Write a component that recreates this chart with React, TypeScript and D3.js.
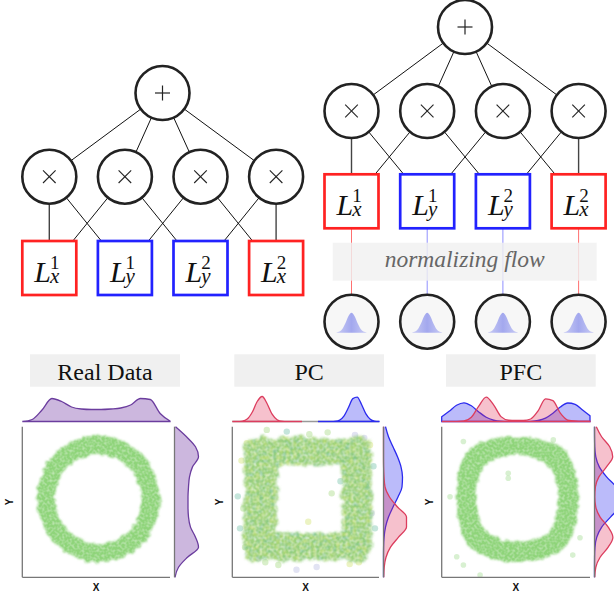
import React from "react";
import * as d3 from "d3";

const W = 614;
const H = 599;

// ---------------- circuit data ----------------
const leafVars = ["x", "y", "y", "x"];
const leafSups = ["1", "1", "2", "2"];
const productChildren: number[][] = [[0, 1], [0, 2], [1, 3], [2, 3]];
const bellSamples = [0.2, 1.1, 4, 9.7, 16.7, 20, 16.7, 9.7, 4, 1.1, 0.2];
const flowLabel = "normalizing flow";

// ---------------- panel data ----------------
const panelTitles = ["Real Data", "PC", "PFC"];
const axisLabels = ["X", "Y"];

const realTop = [0, 2, 11.5, 23, 20, 14.5, 12.5, 12, 12, 12.5, 13.5, 16.5, 23, 22, 8, 0.5];
const realRight = [1, 12, 21, 24, 18, 15, 14, 13.5, 13.5, 14, 16, 21, 24, 13, 4, 0.5];

const pcTopRed = [0, 0.03, 0.4, 2.4, 9.2, 20, 25, 17.8, 7.3, 1.8, 0.24, 0.02, 0, 0, 0];
const pcTopRedSpan = [-4, -0.2];
const pcTopBlue = [0, 0, 0, 0.03, 0.25, 1.5, 5.7, 14, 22.9, 24.4, 17, 7.7, 2.3, 0.45, 0.06];
const pcTopBlueSpan = [0.67, 4];
const pcRightBlue = [2, 5, 9.5, 14, 17.5, 19, 18.5, 14.5, 9.5, 5, 2, 0.6, 0.1, 0, 0, 0];
const pcRightRed = [0, 0, 0, 0, 0.1, 0.5, 1.5, 6, 14, 23, 23, 15, 7, 2.5, 0.7, 0.2];

const pfcTopBlue = [4.7, 10.2, 16.2, 18.7, 15.7, 9.6, 4.2, 1.4, 0.3, 0.05, 0, 0, 0.2, 1.0, 3.4, 8.3, 14.5, 18.5, 17.2, 11.6, 5.7];
const pfcTopRed = [0, 0, 0.03, 0.5, 4.2, 15.4, 24.3, 16.6, 4.9, 1.4, 1, 1.1, 2.5, 10.6, 22.7, 20.9, 8.3, 1.4, 0.5, 0.3, 0.3];
const pfcRightRed = [1.8, 7.1, 15.2, 18.2, 12.0, 4.4, 0.9, 0.3, 1.3, 5.6, 13.7, 18.4, 13.7, 5.6, 1.3, 0.2];
const pfcRightBlue = [0, 0.04, 0.26, 1.3, 4.8, 12.1, 21.8, 27.8, 25.1, 16, 7.2, 2.3, 0.5, 0.08, 0.01, 0];

// point clouds (data units, domain [-4, 4])
const realRingCenter = [0.12, 0.16];
const realRingOuter = [3.34, 3.34, 3.37, 3.37, 3.34, 3.34, 3.37, 3.37];
const realRingInner = [2.35, 2.35, 2.39, 2.39, 2.35, 2.35, 2.39, 2.39];

const pcFrameOuter = [-3.36, 3.56, -3.09, 3.4];
const pcFrameInner = [-1.56, 1.98, -1.65, 1.97];
const pcOutX = [-2.12, -3.21, -3.58, -2.58, -1.49, 3.51, 3.78, 3.06, 1.42, 0.14, -1.03, 2.69, -3.4, -3.0, 3.3, -0.5, 1.2, -3.5, 3.7, 0.6, -2.2, 2.4, -3.7, 3.6, 0.2, -1.8, 1.9, 3.2, -3.3, 2.9];
const pcOutY = [3.83, 3.12, -1.4, -2.99, -3.35, 3.03, -1.4, -2.29, 0.46, -1.05, 3.74, 3.56, -0.34, 1.2, 0.8, -3.6, 3.7, 2.2, 1.9, -3.45, -3.2, -3.3, 0.3, -0.6, 3.6, -1.9, 1.1, 3.4, -2.4, -3.2];

const pfcRingCenter = [0.09, 0.16];
const pfcRingOuter = [3.29, 3.62, 3.3, 3.7, 3.29, 3.6, 3.35, 3.6];
const pfcRingInner = [2.2, 2.42, 2.34, 2.5, 2.2, 2.42, 2.27, 2.42];
const pfcOutX = [-2.83, -3.19, -2.83, -1.93, -3.55, -0.41, -0.41, 3.07, 3.46, 2.02];
const pfcOutY = [3.21, -2.91, -3.35, -3.88, 0.28, 1.53, 1.26, -2.82, -1.9, 3.3];

// ---------------- styles ----------------
const RED = "#ff2222";
const BLUE = "#2222ff";
const NODE = "#222";
const PURPLE_FILL = "rgba(110,50,160,0.35)";
const PURPLE = "#6b3d9e";
const RED_FILL = "rgba(225,50,90,0.3)";
const RED_LINE = "#dc3d5e";
const BLUE_FILL = "rgba(60,60,240,0.35)";
const BLUE_LINE = "#2b2bef";
const GREEN = "#8fd47a";

const serif = "'Liberation Serif', 'Times New Roman', serif";

function Leaf({ cx, top, v, s }: { cx: number; top: number; v: string; s: string }) {
  const color = v === "x" ? RED : BLUE;
  const cy = top + 27;
  return (
    <g>
      <rect x={cx - 27} y={top} width={54} height={54} fill="#fff" stroke={color} strokeWidth={2.7} />
      <text x={cx - 15} y={cy + 13.5} fontFamily={serif} fontStyle="italic" fontSize={30} fill="#111">
        L
        <tspan dx={-1} dy={-13} fontSize={19} fontStyle="normal">{s}</tspan>
        <tspan dx={-9.5} dy={14.5} fontSize={21}>{v}</tspan>
      </text>
    </g>
  );
}

function Tree({ plusX, plusY, x0, step, prodY, boxTop, flow }: any) {
  const r = 27;
  const xs = d3.scalePoint<number>().domain(d3.range(4)).range([x0, x0 + 3 * step]);
  const els: any[] = [];
  d3.range(4).forEach((i) => {
    const px = xs(i)!;
    const dx = px - plusX, dy = prodY - plusY;
    const L = Math.hypot(dx, dy);
    els.push(<line key={"pe" + i} x1={plusX + (dx / L) * r} y1={plusY + (dy / L) * r} x2={px - (dx / L) * r} y2={prodY - (dy / L) * r} stroke="#111" strokeWidth={1} />);
  });
  productChildren.forEach((ch, i) => {
    const px = xs(i)!;
    ch.forEach((j) => {
      const lx = xs(j)!;
      if (j === i) {
        els.push(<line key={`le${i}${j}`} x1={px} y1={prodY + r} x2={px} y2={boxTop} stroke="#444" strokeWidth={1.4} />);
      } else {
        const tx = lx + (lx > px ? -23.5 : 23.5);
        const dx = tx - px, dy = boxTop - prodY;
        const L = Math.hypot(dx, dy);
        els.push(<line key={`le${i}${j}`} x1={px + (dx / L) * r} y1={prodY + (dy / L) * r} x2={tx} y2={boxTop} stroke="#111" strokeWidth={1} />);
      }
    });
  });
  const bottomY = 321.7;
  const bellX = d3.scaleLinear().domain([0, bellSamples.length - 1]).range([-15, 15]);
  const bellH = d3.scaleLinear().domain([0, 20]).range([0, 20]);
  return (
    <g>
      {flow &&
        d3.range(4).map((i) => (
          <line key={"fl" + i} x1={xs(i)} y1={boxTop + 54} x2={xs(i)} y2={bottomY - r} stroke={leafVars[i] === "x" ? "#ff7070" : "#9090ff"} strokeWidth={1} />
        ))}
      {flow && <rect x={332.7} y={242.7} width={264} height={38} fill="#f0f0f0" opacity={0.82} />}
      {flow && (
        <text x={464.7} y={267} textAnchor="middle" fontFamily={serif} fontStyle="italic" fontSize={23.5} fill="#666">{flowLabel}</text>
      )}
      {flow &&
        d3.range(4).map((i) => {
          const cx = xs(i)!;
          const area = d3
            .area<number>()
            .x((_, k) => cx + bellX(k))
            .y0(bottomY + 11)
            .y1((d) => bottomY + 11 - bellH(d))
            .curve(d3.curveMonotoneX);
          return (
            <g key={"bc" + i}>
              <circle cx={cx} cy={bottomY} r={r} fill="#f7f7f7" stroke={NODE} strokeWidth={2.6} />
              <path d={area(bellSamples) || ""} fill="url(#bellGrad)" />
            </g>
          );
        })}
      {els}
      <circle cx={plusX} cy={plusY} r={r} fill="#fff" stroke={NODE} strokeWidth={2.6} />
      <line x1={plusX - 7.5} x2={plusX + 7.5} y1={plusY} y2={plusY} stroke="#222" strokeWidth={1.2} />
      <line x1={plusX} x2={plusX} y1={plusY - 7.5} y2={plusY + 7.5} stroke="#222" strokeWidth={1.2} />
      {d3.range(4).map((i) => {
        const cx = xs(i)!;
        return (
          <g key={"pn" + i}>
            <circle cx={cx} cy={prodY} r={r} fill="#fff" stroke={NODE} strokeWidth={2.6} />
            <line x1={cx - 6.3} y1={prodY - 6.3} x2={cx + 6.3} y2={prodY + 6.3} stroke="#222" strokeWidth={1.1} />
            <line x1={cx - 6.3} y1={prodY + 6.3} x2={cx + 6.3} y2={prodY - 6.3} stroke="#222" strokeWidth={1.1} />
          </g>
        );
      })}
      {d3.range(4).map((i) => (
        <Leaf key={"lf" + i} cx={xs(i)!} top={boxTop} v={leafVars[i]} s={leafSups[i]} />
      ))}
    </g>
  );
}

const hScale = d3.scaleLinear().domain([0, 25]).range([0, 25]);

function TopMarg({ vals, span, xs, baseY, fill, stroke }: any) {
  const pos = d3.scaleLinear().domain([0, vals.length - 1]).range(span);
  const area = d3
    .area<number>()
    .x((_, i) => xs(pos(i)))
    .y0(baseY)
    .y1((d) => baseY - hScale(d))
    .curve(d3.curveMonotoneX);
  return <path d={area(vals) || ""} fill={fill} stroke={stroke} strokeWidth={1.3} />;
}

function RightMarg({ vals, span, ys, baseX, fill, stroke }: any) {
  const pos = d3.scaleLinear().domain([0, vals.length - 1]).range(span);
  const area = d3
    .area<number>()
    .y((_, i) => ys(pos(i)))
    .x0(baseX)
    .x1((d) => baseX + hScale(d))
    .curve(d3.curveMonotoneY);
  const line = d3
    .line<number>()
    .y((_, i) => ys(pos(i)))
    .x((d) => baseX + hScale(d))
    .curve(d3.curveMonotoneY);
  return (
    <g>
      <path d={area(vals) || ""} fill={fill} />
      <path d={line(vals) || ""} fill="none" stroke={stroke} strokeWidth={1.3} />
    </g>
  );
}

function ringPath(center: number[], outer: number[], inner: number[], xs: any, ys: any) {
  const line = d3.line().curve(d3.curveCatmullRomClosed.alpha(0.5));
  const pts = (rr: number[]) =>
    rr.map((r, i) => {
      const a = (i * Math.PI) / 4;
      return [xs(center[0] + r * Math.cos(a)), ys(center[1] + r * Math.sin(a))] as [number, number];
    });
  return (line(pts(outer)) || "") + (line(pts(inner).reverse()) || "");
}

function rectPath(b: number[], xs: any, ys: any, rad: number) {
  const p = d3.path();
  const x0 = xs(b[0]), x1 = xs(b[1]), y0 = ys(b[3]), y1 = ys(b[2]);
  p.moveTo(x0 + rad, y0);
  p.lineTo(x1 - rad, y0);
  p.arcTo(x1, y0, x1, y0 + rad, rad);
  p.lineTo(x1, y1 - rad);
  p.arcTo(x1, y1, x1 - rad, y1, rad);
  p.lineTo(x0 + rad, y1);
  p.arcTo(x0, y1, x0, y1 - rad, rad);
  p.lineTo(x0, y0 + rad);
  p.arcTo(x0, y0, x0 + rad, y0, rad);
  p.closePath();
  return p.toString();
}

function Panel({ idx, left, right, titleX0, titleX1 }: any) {
  const top = 426.7, bottom = 577.3;
  const xs = d3.scaleLinear().domain([-4, 4]).range([left, right]);
  const ys = d3.scaleLinear().domain([-4, 4]).range([bottom, top]);
  const baseY = 421.5;
  const baseX = right + 4.5;
  const full = [-4, 4];
  const fullR = [4, -4];
  let cloud: any = null;
  let margs: any = null;
  const dotColors = ["#9fd67a", "#cfe06a", "#6fbfa5", "#b7b8e0"];
  if (idx === 0) {
    cloud = <path d={ringPath(realRingCenter, realRingOuter, realRingInner, xs, ys)} fill={GREEN} fillRule="evenodd" filter="url(#soft)" />;
    margs = (
      <g>
        <TopMarg vals={realTop} span={full} xs={xs} baseY={baseY} fill={PURPLE_FILL} stroke={PURPLE} />
        <RightMarg vals={realRight} span={fullR} ys={ys} baseX={baseX} fill={PURPLE_FILL} stroke={PURPLE} />
      </g>
    );
  } else if (idx === 1) {
    const d = rectPath(pcFrameOuter, xs, ys, 10) + rectPath(pcFrameInner, xs, ys, 4);
    cloud = (
      <g>
        {pcOutX.map((x, i) => (
          <circle key={i} cx={xs(x)} cy={ys(pcOutY[i])} r={3.2} fill={dotColors[i % 4]} opacity={0.4} />
        ))}
        <path d={d} fill="#98d17c" fillRule="evenodd" filter="url(#wobble)" />
        <path d={d} fill="#5fb3a4" fillRule="evenodd" filter="url(#spot2)" />
        <path d={d} fill="#d3e36a" fillRule="evenodd" filter="url(#spot3)" />
      </g>
    );
    margs = (
      <g>
        <line x1={left} x2={right} y1={baseY} y2={baseY} stroke="#999" strokeWidth={1.3} />
        <TopMarg vals={pcTopRed} span={pcTopRedSpan} xs={xs} baseY={baseY} fill={RED_FILL} stroke={RED_LINE} />
        <TopMarg vals={pcTopBlue} span={pcTopBlueSpan} xs={xs} baseY={baseY} fill={BLUE_FILL} stroke={BLUE_LINE} />
        <RightMarg vals={pcRightBlue} span={fullR} ys={ys} baseX={baseX} fill={BLUE_FILL} stroke={BLUE_LINE} />
        <RightMarg vals={pcRightRed} span={fullR} ys={ys} baseX={baseX} fill={RED_FILL} stroke={RED_LINE} />
      </g>
    );
  } else {
    cloud = (
      <g>
        {pfcOutX.map((x, i) => (
          <circle key={i} cx={xs(x)} cy={ys(pfcOutY[i])} r={2.8} fill={GREEN} opacity={0.35} />
        ))}
        <path d={ringPath(pfcRingCenter, pfcRingOuter, pfcRingInner, xs, ys)} fill={GREEN} fillRule="evenodd" filter="url(#soft)" />
      </g>
    );
    margs = (
      <g>
        <TopMarg vals={pfcTopBlue} span={full} xs={xs} baseY={baseY} fill={BLUE_FILL} stroke={BLUE_LINE} />
        <TopMarg vals={pfcTopRed} span={full} xs={xs} baseY={baseY} fill={RED_FILL} stroke={RED_LINE} />
        <RightMarg vals={pfcRightBlue} span={fullR} ys={ys} baseX={baseX} fill={BLUE_FILL} stroke={BLUE_LINE} />
        <RightMarg vals={pfcRightRed} span={fullR} ys={ys} baseX={baseX} fill={RED_FILL} stroke={RED_LINE} />
      </g>
    );
  }
  const midY = (top + bottom) / 2;
  return (
    <g>
      <rect x={titleX0} y={354.3} width={titleX1 - titleX0} height={32.4} fill="#f0f0f0" />
      <text x={(titleX0 + titleX1) / 2} y={379.5} textAnchor="middle" fontFamily={serif} fontSize={24} fill="#111">
        {panelTitles[idx]}
      </text>
      {cloud}
      {margs}
      <line x1={baseX} x2={baseX} y1={top} y2={bottom} stroke="#777" strokeWidth={1.3} />
      <line x1={left} x2={left} y1={top} y2={bottom} stroke="#777" strokeWidth={1.3} />
      <line x1={left} x2={right} y1={bottom} y2={bottom} stroke="#777" strokeWidth={1.3} />
      <text x={(left + right) / 2} y={591} textAnchor="middle" fontFamily="'Liberation Sans', Arial, sans-serif" fontWeight="bold" fontSize={10} fill="#111">
        {axisLabels[0]}
      </text>
      <text x={left - 9} y={midY} transform={`rotate(-90 ${left - 9} ${midY})`} textAnchor="middle" fontFamily="'Liberation Sans', Arial, sans-serif" fontWeight="bold" fontSize={10} fill="#111">
        {axisLabels[1]}
      </text>
    </g>
  );
}

export default function App() {
  return (
    <svg width={W} height={H} viewBox={`0 0 ${W} ${H}`} style={{ position: "absolute", left: 0, top: 0, background: "#fff" }}>
      <defs>
        <linearGradient id="bellGrad" x1="0" x2="1" y1="0" y2="0">
          <stop offset="0" stopColor="#c8cbf4" />
          <stop offset="0.5" stopColor="#a3a8ee" />
          <stop offset="1" stopColor="#c8cbf4" />
        </linearGradient>
        <filter id="soft" x="-15%" y="-15%" width="130%" height="130%">
          <feTurbulence type="fractalNoise" baseFrequency="0.2" numOctaves="2" seed="2" result="noise" />
          <feDisplacementMap in="SourceGraphic" in2="noise" scale="6" xChannelSelector="R" yChannelSelector="G" result="disp" />
          <feGaussianBlur in="disp" stdDeviation="1.1" result="bl" />
          <feTurbulence type="fractalNoise" baseFrequency="0.4" numOctaves="1" seed="7" result="fine" />
          <feColorMatrix in="fine" type="matrix" values="0 0 0 0 0  0 0 0 0 0  0 0 0 0 0  0.9 0 0 0 0.45" result="mask" />
          <feComposite in="bl" in2="mask" operator="in" />
        </filter>
        <filter id="wobble" x="-15%" y="-15%" width="130%" height="130%">
          <feTurbulence type="fractalNoise" baseFrequency="0.12" numOctaves="2" seed="4" result="noise" />
          <feDisplacementMap in="SourceGraphic" in2="noise" scale="10" xChannelSelector="R" yChannelSelector="G" result="disp" />
          <feGaussianBlur in="disp" stdDeviation="1.6" result="bl" />
          <feTurbulence type="fractalNoise" baseFrequency="0.35" numOctaves="1" seed="9" result="fine" />
          <feColorMatrix in="fine" type="matrix" values="0 0 0 0 0  0 0 0 0 0  0 0 0 0 0  1.4 0 0 0 0.05" result="mask" />
          <feComposite in="bl" in2="mask" operator="in" />
        </filter>
        <filter id="spot2" x="-15%" y="-15%" width="130%" height="130%">
          <feTurbulence type="fractalNoise" baseFrequency="0.12" numOctaves="2" seed="4" result="noise" />
          <feDisplacementMap in="SourceGraphic" in2="noise" scale="10" xChannelSelector="R" yChannelSelector="G" result="disp" />
          <feTurbulence type="fractalNoise" baseFrequency="0.3" numOctaves="1" seed="11" result="fine" />
          <feColorMatrix in="fine" type="matrix" values="0 0 0 0 0  0 0 0 0 0  0 0 0 0 0  1.6 0 0 0 -0.65" result="mask" />
          <feComposite in="disp" in2="mask" operator="in" result="tex" />
          <feGaussianBlur in="tex" stdDeviation="1" />
        </filter>
        <filter id="spot3" x="-15%" y="-15%" width="130%" height="130%">
          <feTurbulence type="fractalNoise" baseFrequency="0.12" numOctaves="2" seed="4" result="noise" />
          <feDisplacementMap in="SourceGraphic" in2="noise" scale="10" xChannelSelector="R" yChannelSelector="G" result="disp" />
          <feTurbulence type="fractalNoise" baseFrequency="0.3" numOctaves="1" seed="23" result="fine" />
          <feColorMatrix in="fine" type="matrix" values="0 0 0 0 0  0 0 0 0 0  0 0 0 0 0  1.6 0 0 0 -0.6" result="mask" />
          <feComposite in="disp" in2="mask" operator="in" result="tex" />
          <feGaussianBlur in="tex" stdDeviation="1" />
        </filter>
      </defs>
      <Tree plusX={162.5} plusY={93} x0={49.3} step={75.6} prodY={176.7} boxTop={241} flow={false} />
      <Tree plusX={465} plusY={27} x0={351.5} step={75.7} prodY={111} boxTop={174.3} flow={true} />
      <Panel idx={0} left={22.3} right={170} titleX0={30} titleX1={180} />
      <Panel idx={1} left={232.3} right={379} titleX0={234.3} titleX1={384} />
      <Panel idx={2} left={441.7} right={590} titleX0={446} titleX1={595.7} />
    </svg>
  );
}
